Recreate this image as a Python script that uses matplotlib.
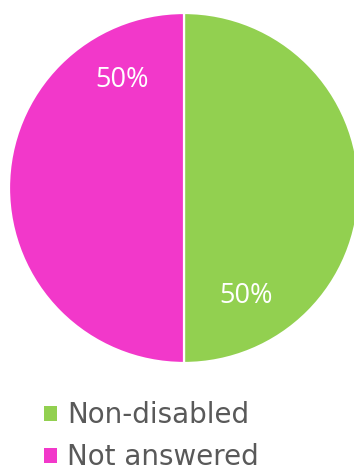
import numpy as np
import matplotlib.pyplot as plt

# data
labels = ['Non-disabled', 'Not answered']
values = [50, 50]
colors = ['#92D050', '#F238CA']

fig = plt.figure(figsize=(3.54, 4.70), dpi=100)
ax = fig.add_axes([9 / 354, 107 / 470, 350 / 354, 350 / 470])

wedges, _ = ax.pie(values, colors=colors, startangle=90, counterclock=False,
                   radius=1, wedgeprops=dict(edgecolor='white', linewidth=1.6))
ax.set_xlim(-1, 1)
ax.set_ylim(-1, 1)
ax.set_aspect('equal')
ax.axis('off')

# percentage labels (placed like the original, 60 deg before the wedge middle)
total = sum(values)
for w, v in zip(wedges, values):
    mid = np.deg2rad((w.theta1 + w.theta2) / 2 - 60)
    ax.text(0.71 * np.cos(mid), 0.71 * np.sin(mid), f'{v / total * 100:.0f}%',
            ha='center', va='center', color='white', fontsize=19.5,
            family='Open Sans')

leg = fig.legend(wedges, labels, loc='upper left', bbox_to_anchor=(44 / 354, 1 - 401 / 470),
                 frameon=False, fontsize=20, handlelength=0.45, handleheight=0.45,
                 handletextpad=0.38, labelspacing=0.52, borderpad=0, borderaxespad=0)
for t in leg.get_texts():
    t.set_color('#595959')
for h in leg.legend_handles:
    h.set_edgecolor('none')

fig.savefig('out.png', dpi=100)
